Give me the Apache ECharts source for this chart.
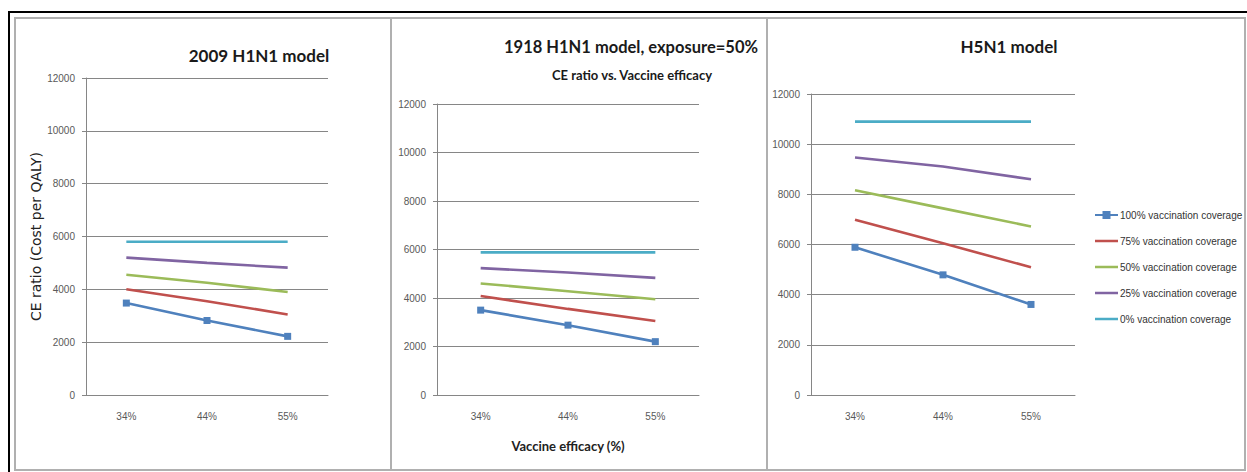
<!DOCTYPE html>
<html>
<head>
<meta charset="utf-8">
<script src="https://cdn.jsdelivr.net/npm/echarts@6/dist/echarts.min.js"></script>
<style>
  html, body { margin: 0; padding: 0; background: #ffffff; }
  #chart { width: 1247px; height: 472px; }
</style>
</head>
<body>
<div id="chart"></div>
<script>
// ---- Data ----
const categories = ['34%', '44%', '55%'];
const seriesNames = [
  '100% vaccination coverage',
  '75% vaccination coverage',
  '50% vaccination coverage',
  '25% vaccination coverage',
  '0% vaccination coverage'
];
const yTicks = [0, 2000, 4000, 6000, 8000, 10000, 12000];

// 2009 H1N1 model
const h2009_cov100 = [3480, 2820, 2220];
const h2009_cov75  = [4000, 3550, 3050];
const h2009_cov50  = [4550, 4250, 3900];
const h2009_cov25  = [5200, 5000, 4820];
const h2009_cov0   = [5800, 5800, 5800];

// 1918 H1N1 model, exposure=50%
const h1918_cov100 = [3500, 2880, 2200];
const h1918_cov75  = [4080, 3550, 3050];
const h1918_cov50  = [4600, 4280, 3950];
const h1918_cov25  = [5230, 5050, 4830];
const h1918_cov0   = [5880, 5880, 5880];

// H5N1 model
const h5n1_cov100 = [5890, 4790, 3610];
const h5n1_cov75  = [6990, 6050, 5090];
const h5n1_cov50  = [8160, 7440, 6720];
const h5n1_cov25  = [9470, 9110, 8600];
const h5n1_cov0   = [10900, 10900, 10900];

const panelTitles = ['2009 H1N1 model', '1918 H1N1 model, exposure=50%', 'H5N1 model'];
const panel2Subtitle = 'CE ratio vs. Vaccine efficacy';
const yAxisName = 'CE ratio (Cost per QALY)';
const xAxisName = 'Vaccine efficacy (%)';

// ---- Styling ----
const colors = ['#4F81BD', '#C0504D', '#9BBB59', '#8064A2', '#4BACC6'];
const panelData = [
  [h2009_cov100, h2009_cov75, h2009_cov50, h2009_cov25, h2009_cov0],
  [h1918_cov100, h1918_cov75, h1918_cov50, h1918_cov25, h1918_cov0],
  [h5n1_cov100, h5n1_cov75, h5n1_cov50, h5n1_cov25, h5n1_cov0]
];
const grids = [
  { left: 86,  top: 78,  width: 242, height: 317 },
  { left: 437, top: 104, width: 262, height: 291 },
  { left: 811, top: 94,  width: 264, height: 301 }
];

const labelFont = { fontFamily: 'Liberation Sans', fontSize: 10, color: '#595959' };
const gridColor = '#868686';

const xAxes = grids.map((g, i) => ({
  type: 'category',
  gridIndex: i,
  data: categories,
  boundaryGap: true,
  axisLine: { show: true, lineStyle: { color: gridColor, width: 1 } },
  axisTick: { show: false },
  axisLabel: Object.assign({ margin: 16 }, labelFont),
  name: i === 1 ? xAxisName : '',
  nameLocation: 'middle',
  nameGap: 44,
  nameTextStyle: { fontFamily: 'Lato', fontWeight: 'bold', fontSize: 13, color: '#222' }
}));

const yAxes = grids.map((g, i) => ({
  type: 'value',
  gridIndex: i,
  min: 0,
  max: 12000,
  interval: 2000,
  axisLine: { show: true, lineStyle: { color: gridColor, width: 1 } },
  axisTick: { show: true, inside: false, length: 4, lineStyle: { color: gridColor } },
  axisLabel: Object.assign({ margin: 11, formatter: v => String(v) }, labelFont),
  splitLine: { show: true, lineStyle: { color: gridColor, width: 1 } },
  name: i === 0 ? yAxisName : '',
  nameLocation: 'middle',
  nameGap: 42,
  nameTextStyle: { fontFamily: 'DejaVu Sans', fontSize: 14, color: '#222' }
}));

const series = [];
panelData.forEach((arrs, p) => {
  arrs.forEach((vals, s) => {
    series.push({
      type: 'line',
      name: seriesNames[s],
      xAxisIndex: p,
      yAxisIndex: p,
      data: vals,
      symbol: s === 0 ? 'rect' : 'none',
      symbolSize: 7,
      showSymbol: s === 0,
      lineStyle: { color: colors[s], width: 2.6 },
      itemStyle: { color: colors[s] },
      animation: false,
      z: 10 - s
    });
  });
});

function txt(x, y, text, font, fill) {
  return {
    type: 'text', x: x, y: y, silent: true,
    style: { text: text, font: font, fill: fill || '#1a1a1a',
             align: 'center', verticalAlign: 'middle',
             textAlign: 'center', textVerticalAlign: 'middle' }
  };
}

const graphics = [
  // outer black frame
  { type: 'rect', shape: { x: 9, y: 12, width: 1250, height: 470 }, style: { fill: 'none', stroke: '#000', lineWidth: 2 }, z: -10 },
  // panel frames
  { type: 'rect', shape: { x: 15, y: 18, width: 376, height: 452 }, style: { fill: 'none', stroke: '#b0b0b0', lineWidth: 2 }, z: -9 },
  { type: 'rect', shape: { x: 391, y: 18, width: 376, height: 452 }, style: { fill: 'none', stroke: '#b0b0b0', lineWidth: 2 }, z: -9 },
  { type: 'rect', shape: { x: 767, y: 18, width: 478, height: 452 }, style: { fill: 'none', stroke: '#b0b0b0', lineWidth: 2 }, z: -9 },
  txt(259, 55, panelTitles[0], 'bold 17px Lato'),
  txt(631, 47, panelTitles[1], 'bold 16.5px Lato'),
  txt(632, 75, panel2Subtitle, 'bold 13px Lato'),
  txt(1009, 46, panelTitles[2], 'bold 17px Lato')
];

// plain line legend icon (no marker) for series drawn without markers
const lineIcon = 'path://M0,0 L0.01,0 L0.01,0.01 Z M0,3.7 L23,3.7 L23,6.3 L0,6.3 Z M0,10 L0.01,10 L0.01,9.99 Z';
const legendData = seriesNames.map((n, i) => i === 0 ? { name: n } : { name: n, icon: lineIcon });

const chart = echarts.init(document.getElementById('chart'), null, { renderer: 'svg' });
chart.setOption({
  backgroundColor: '#ffffff',
  animation: false,
  color: colors,
  grid: grids,
  xAxis: xAxes,
  yAxis: yAxes,
  legend: {
    orient: 'vertical',
    left: 1089,
    top: 205,
    itemWidth: 23,
    itemHeight: 10,
    itemGap: 16,
    data: legendData,
    textStyle: { fontFamily: 'Liberation Sans', fontSize: 10, color: '#333', padding: [0, 0, 0, -3] }
  },
  graphic: graphics,
  series: series
});
</script>
</body>
</html>
